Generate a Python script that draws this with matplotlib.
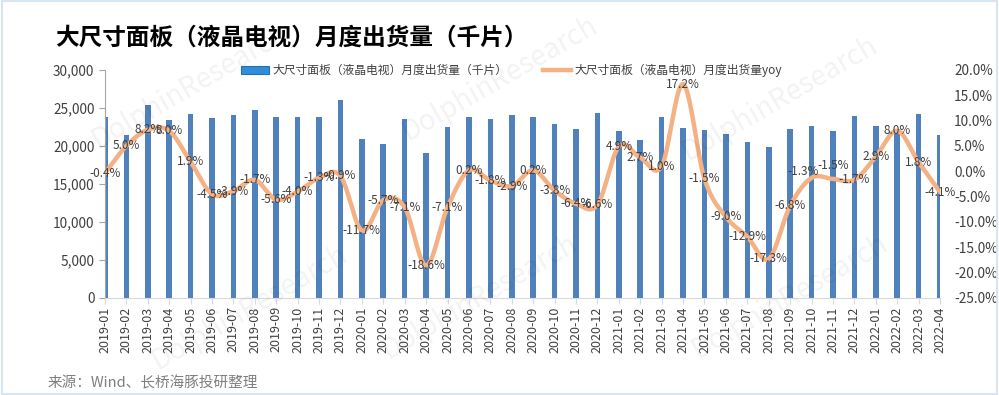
import numpy as np
import matplotlib
matplotlib.use("Agg")
import matplotlib.pyplot as plt
from matplotlib.patches import Patch, Rectangle
from matplotlib.lines import Line2D

plt.rcParams['font.family'] = ['Noto Sans CJK SC', 'DejaVu Sans']

# monthly data, 2019-01 .. 2022-04
months = [f"{y}-{m:02d}" for y in (2019, 2020, 2021) for m in range(1, 13)] + \
         ["2022-01", "2022-02", "2022-03", "2022-04"]

shipments = [23850, 21450, 25400, 23420, 24200, 23640, 24080, 24740, 23770, 23770, 23770, 26050,
             20880, 20220, 23510, 19060, 22460, 23770, 23510, 24080, 23860, 22850, 22190, 24300,
             21970, 20790, 23770, 22320, 22100, 21580, 20530, 19820, 22190, 22630, 21970, 23950,
             22630, 22200, 24210, 21450]

yoy = [-0.4, 5.0, 8.2, 8.0, 1.9, -4.5, -3.9, -1.7, -5.6, -4.0, -1.3, -0.9,
       -11.7, -5.7, -7.1, -18.6, -7.1, 0.2, -1.8, -2.9, 0.2, -3.8, -6.4, -6.6,
       4.9, 2.7, 1.0, 17.2, -1.5, -9.0, -12.9, -17.3, -6.8, -1.3, -1.5, -1.7,
       2.9, 8.0, 1.8, -4.1]

bar_label = "大尺寸面板（液晶电视）月度出货量（千片）"
line_label = "大尺寸面板（液晶电视）月度出货量yoy"

BAR_C = "#4F81BD"
LINE_C = "#F4B183"
TXT_C = "#404040"


def smooth(x, y, n=20):
    # catmull-rom curve through the points, like excel's smoothed line
    x = np.asarray(x, float)
    y = np.asarray(y, float)
    px = np.concatenate([[2 * x[0] - x[1]], x, [2 * x[-1] - x[-2]]])
    py = np.concatenate([[2 * y[0] - y[1]], y, [2 * y[-1] - y[-2]]])
    t = np.linspace(0, 1, n, endpoint=False)
    xs, ys = [], []
    for i in range(1, len(px) - 2):
        for p, out in ((px, xs), (py, ys)):
            p0, p1, p2, p3 = p[i - 1], p[i], p[i + 1], p[i + 2]
            out.extend(0.5 * (2 * p1 + (-p0 + p2) * t + (2 * p0 - 5 * p1 + 4 * p2 - p3) * t ** 2
                              + (-p0 + 3 * p1 - 3 * p2 + p3) * t ** 3))
    xs.append(x[-1])
    ys.append(y[-1])
    return np.array(xs), np.array(ys)


fig = plt.figure(figsize=(9.99, 3.95), dpi=100)
ax = fig.add_axes([0.105, 0.2456, 0.836, 0.5772])
ax2 = ax.twinx()

xi = np.arange(len(months))
ax.bar(xi, shipments, width=0.26, color=BAR_C, zorder=2)
ax.set_xlim(0, len(months) - 1)
ax.set_ylim(0, 30000)
ax.set_yticks(np.arange(0, 30001, 5000))
ax.set_yticklabels([f"{v:,}" for v in range(0, 30001, 5000)])
ax.set_xticks(xi)
ax.set_xticklabels(months, rotation=90)

sx, sy = smooth(xi, yoy)
ax2.plot(sx, sy, color=LINE_C, lw=3.2, solid_capstyle='round', zorder=3)
# a couple of labels were nudged by hand in the original
nudge = {33: (-0.4, 1.2), 34: (0.0, 2.6)}
for x, v in zip(xi, yoy):
    dx, dy = nudge.get(x, (0, 0))
    ax2.text(x + dx, v + dy, f"{v:.1f}%", ha='center', va='center', fontsize=8.5,
             color=TXT_C, zorder=4)
ax2.set_ylim(-25, 20)
ax2.set_yticks(np.arange(-25, 21, 5))
ax2.set_yticklabels([f"{v:.1f}%" for v in range(-25, 21, 5)])
ax2.set_xlim(0, len(months) - 1)

for a in (ax, ax2):
    for s in ('top', 'right', 'left', 'bottom'):
        a.spines[s].set_visible(False)
    a.set_facecolor('none')
ax.spines['left'].set_visible(True)
ax.spines['bottom'].set_visible(True)
ax.spines['left'].set_color('#A6A6A6')
ax.spines['bottom'].set_color('#D9D9D9')
ax.tick_params(axis='y', colors='#A6A6A6', labelcolor=TXT_C, labelsize=9.8, length=4, direction='out')
ax.tick_params(axis='x', colors='#D9D9D9', labelcolor=TXT_C, labelsize=9, length=4, direction='out', pad=2)
ax2.tick_params(axis='y', length=0, labelcolor=TXT_C, labelsize=9.8, pad=10)

handles = [Patch(facecolor="#2E8FD8", edgecolor="#2A6FB0", lw=0.8),
           Line2D([], [], color=LINE_C, lw=3.2)]
fig.legend(handles, [bar_label, line_label], loc='center', bbox_to_anchor=(0.512, 0.822),
           ncol=2, frameon=False, fontsize=8.5, handlelength=2.4, columnspacing=3.0,
           handletextpad=0.3, labelcolor=TXT_C)

fig.text(0.055, 0.905, "大尺寸面板（液晶电视）月度出货量（千片）", fontsize=17,
         fontweight='bold', color='black', va='center', ha='left')
fig.text(0.048, 0.03, "来源：Wind、长桥海豚投研整理", fontsize=10.5, color='#7F7F7F',
         va='center', ha='left')

# faint watermark
for (wx, wy) in [(0.19, 0.78), (0.50, 0.80), (0.78, 0.75), (0.48, 0.25), (0.79, 0.25), (0.25, 0.22)]:
    fig.text(wx, wy, "DolphinResearch", fontsize=20, color='#000000', alpha=0.05,
             rotation=30, ha='center', va='center')

fig.patches.append(Rectangle((0.002, 0.003), 0.996, 0.994, transform=fig.transFigure,
                             fill=False, edgecolor='#D6E6F4', lw=1.5))

fig.savefig("out.png", dpi=100)
